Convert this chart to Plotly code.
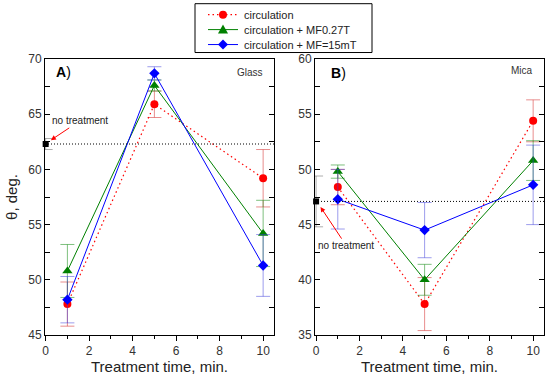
import plotly.graph_objects as go

# ---- data ----
times = [1, 5, 10]
series_names = ["circulation", "circulation + MF0.27T", "circulation + MF=15mT"]

glass_circ = [47.8, 65.9, 59.2]
glass_circ_err = [2.0, 1.2, 2.6]
glass_mf027 = [50.8, 67.6, 54.2]
glass_mf027_err = [2.4, 0.5, 3.0]
glass_mf15 = [48.2, 68.7, 51.3]
glass_mf15_err = [2.1, 0.6, 2.8]
glass_none = 62.3
glass_none_err = 0.5

mica_circ = [48.4, 37.8, 54.4]
mica_circ_err = [1.6, 2.4, 1.9]
mica_mf027 = [49.8, 40.0, 50.8]
mica_mf027_err = [0.6, 1.4, 1.8]
mica_mf15 = [47.3, 44.5, 48.6]
mica_mf15_err = [2.7, 2.5, 3.6]
mica_none = 47.1
mica_none_err = 2.3

x_ticks = [0, 2, 4, 6, 8, 10]

colors = ["#ff0000", "#008000", "#0000ff"]
err_colors = ["rgba(220,80,80,0.65)", "rgba(40,150,40,0.6)", "rgba(60,60,220,0.5)"]
symbols = ["circle", "triangle-up", "diamond"]
msizes = [8, 9, 8]
dashes = ["1.5px,3px", "solid", "solid"]

# layout geometry (pixels)
W, H = 550, 377
ML, MR, MT, MB = 45, 6, 58.5, 41.5
PW = W - ML - MR
PH = H - MT - MB

def px(xp):
    return (xp - ML) / PW

def py(yp):
    return (H - MB - yp) / PH

fig = go.Figure()

def add_panel(vals, errs, none_val, none_err, xa, ya):
    for i in range(3):
        fig.add_trace(go.Scatter(
            x=times, y=vals[i], name=series_names[i], mode="lines+markers",
            line=dict(color=colors[i], width=1.2 if i == 0 else 1, dash=dashes[i]),
            marker=dict(color=colors[i], symbol=symbols[i], size=msizes[i]),
            error_y=dict(type="data", array=errs[i], color=err_colors[i], thickness=1, width=7),
            xaxis=xa, yaxis=ya, showlegend=False))
    fig.add_trace(go.Scatter(
        x=[0], y=[none_val], mode="markers", name="no treatment",
        marker=dict(color="black", symbol="square", size=6),
        error_y=dict(type="data", array=[none_err], color="rgba(120,120,120,0.6)", thickness=1, width=7),
        xaxis=xa, yaxis=ya, showlegend=False, cliponaxis=False))

add_panel([glass_circ, glass_mf027, glass_mf15],
          [glass_circ_err, glass_mf027_err, glass_mf15_err],
          glass_none, glass_none_err, "x", "y")
add_panel([mica_circ, mica_mf027, mica_mf15],
          [mica_circ_err, mica_mf027_err, mica_mf15_err],
          mica_none, mica_none_err, "x2", "y2")

# dotted reference lines
fig.add_shape(type="line", xref="x domain", yref="y", x0=0, x1=1, y0=glass_none, y1=glass_none,
              line=dict(color="black", width=1, dash="1px,2px"))
fig.add_shape(type="line", xref="x2 domain", yref="y2", x0=0, x1=1, y0=mica_none, y1=mica_none,
              line=dict(color="black", width=1, dash="1px,2px"))

# ---- compact legend box (drawn with layout shapes) ----
LX0, LX1, LY0, LY1 = 195, 372, 3, 52
fig.add_shape(type="rect", xref="paper", yref="paper", x0=px(LX0), x1=px(LX1), y0=py(LY0), y1=py(LY1),
              line=dict(color="black", width=1), fillcolor="white", layer="above")
legend_rows = [14, 29, 44]
SX0, SX1, SXC = 208, 238, 223
annots = []
for i, name in enumerate(series_names):
    ry = legend_rows[i]
    fig.add_shape(type="line", xref="paper", yref="paper", x0=px(SX0), x1=px(SX1), y0=py(ry), y1=py(ry),
                  line=dict(color=colors[i], width=1.2 if i == 0 else 1, dash=dashes[i]), layer="above")
    if symbols[i] == "circle":
        r = 4
        fig.add_shape(type="circle", xref="paper", yref="paper",
                      x0=px(SXC - r), x1=px(SXC + r), y0=py(ry - r), y1=py(ry + r),
                      fillcolor=colors[i], line=dict(color=colors[i], width=0), layer="above")
    elif symbols[i] == "triangle-up":
        path = "M {a},{b} L {c},{d} L {e},{f} Z".format(
            a=px(SXC - 5), b=py(ry + 4), c=px(SXC + 5), d=py(ry + 4), e=px(SXC), f=py(ry - 5))
        fig.add_shape(type="path", xref="paper", yref="paper", path=path,
                      fillcolor=colors[i], line=dict(color=colors[i], width=0), layer="above")
    else:
        path = "M {a},{b} L {c},{d} L {e},{f} L {g},{h} Z".format(
            a=px(SXC - 5), b=py(ry), c=px(SXC), d=py(ry - 5), e=px(SXC + 5), f=py(ry), g=px(SXC), h=py(ry + 5))
        fig.add_shape(type="path", xref="paper", yref="paper", path=path,
                      fillcolor=colors[i], line=dict(color=colors[i], width=0), layer="above")
    annots.append(dict(text=name, x=px(242), y=py(ry), xref="paper", yref="paper",
                       xanchor="left", yanchor="middle", showarrow=False,
                       font=dict(size=11, color="#222")))

font_main = "Arial, Liberation Sans, sans-serif"
xcommon = dict(tickvals=x_ticks, ticks="outside", ticklen=5, tickcolor="black",
               minor=dict(dtick=1, ticks="outside", ticklen=3, tickcolor="black"),
               showline=True, linecolor="black", linewidth=1, mirror=True,
               showgrid=False, zeroline=False, automargin=False,
               tickfont=dict(size=12, color="#333"),
               title=dict(text="Treatment time, min.", font=dict(size=15, color="#222"), standoff=3))
ycommon = dict(dtick=5, ticks="inside", ticklen=5, tickcolor="black",
               minor=dict(dtick=2.5, ticks="inside", ticklen=5, tickcolor="black"),
               showline=True, linecolor="black", linewidth=1, mirror="allticks",
               showgrid=False, zeroline=False, automargin=False,
               tickfont=dict(size=12, color="#333"))

fig.update_layout(
    width=W, height=H,
    margin=dict(l=ML, r=MR, t=MT, b=MB, autoexpand=False),
    paper_bgcolor="white", plot_bgcolor="white",
    font=dict(family=font_main, color="#222"),
    xaxis=dict(xcommon, domain=[0, 229/PW], range=[-0.03, 10.5], anchor="y"),
    xaxis2=dict(xcommon, domain=[270/PW, 1], range=[-0.05, 10.5], anchor="y2"),
    yaxis=dict(ycommon, domain=[0, 1], range=[45, 70], anchor="x",
               title=dict(text="θ, deg.", font=dict(size=15, color="#222"), standoff=6)),
    yaxis2=dict(ycommon, domain=[0, 1], range=[35, 60], anchor="x2"),
    showlegend=False,
)

annots += [
    dict(text="<b>A</b>)", x=0.04, y=0.99, xref="x domain", yref="y domain", xanchor="left", yanchor="top",
         font=dict(size=14, color="black"), showarrow=False),
    dict(text="Glass", x=0.96, y=0.98, xref="x domain", yref="y domain", xanchor="right", yanchor="top",
         font=dict(size=10, color="#333"), showarrow=False),
    dict(text="<b>B</b>)", x=0.06, y=0.985, xref="x2 domain", yref="y2 domain", xanchor="left", yanchor="top",
         font=dict(size=14, color="black"), showarrow=False),
    dict(text="Mica", x=0.96, y=0.985, xref="x2 domain", yref="y2 domain", xanchor="right", yanchor="top",
         font=dict(size=10, color="#333"), showarrow=False),
    dict(text="no treatment", x=0.05, y=glass_none + 0.1, xref="x", yref="y", ax=33, ay=-22,
         font=dict(size=10, color="#222"), showarrow=True, arrowhead=2, arrowsize=1, arrowwidth=1,
         arrowcolor="red", standoff=5),
    dict(text="no treatment", x=0.1, y=mica_none - 0.2, xref="x2", yref="y2", ax=28, ay=42,
         font=dict(size=10, color="#222"), showarrow=True, arrowhead=2, arrowsize=1, arrowwidth=1,
         arrowcolor="red", standoff=4),
]
fig.update_layout(annotations=annots)

fig.write_html("out.html", config={"displayModeBar": False},
               post_script="document.body.style.margin='0';")
